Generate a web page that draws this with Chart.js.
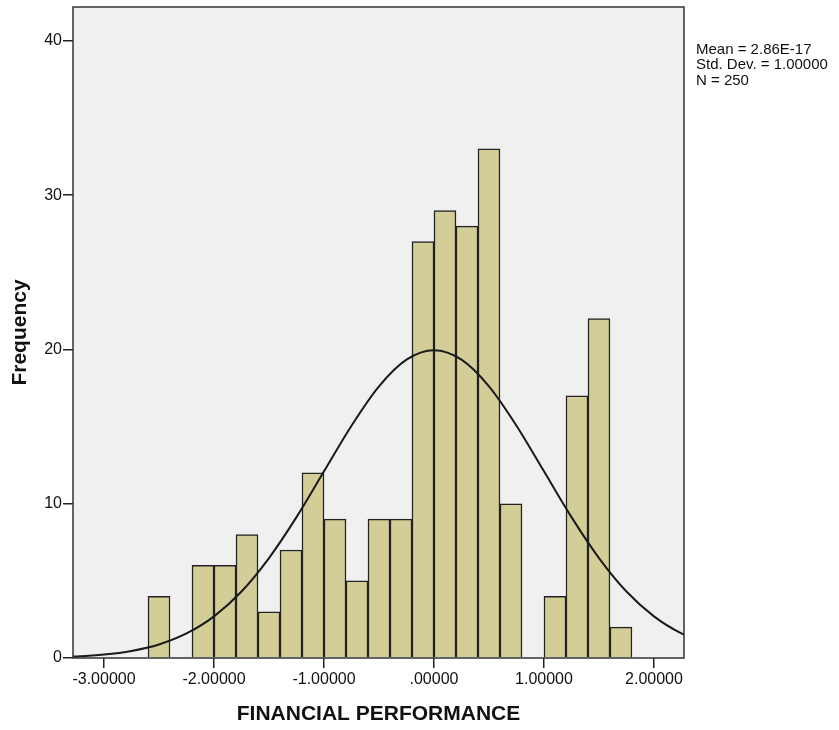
<!DOCTYPE html>
<html>
<head>
<meta charset="utf-8">
<script src="https://cdn.jsdelivr.net/npm/chart.js@4/dist/chart.umd.min.js"></script>
<style>
  body { margin: 0; background: #fff; }
  #wrap { position: relative; width: 839px; height: 730px; }
  #stats {
    position: absolute; left: 696px; top: 40.5px;
    font: 15px "Liberation Sans", Arial, sans-serif; line-height: 15.5px; color: #111;
    white-space: nowrap;
  }
</style>
</head>
<body>
<div id="wrap">
  <canvas id="chart" width="839" height="730"></canvas>
  <div id="stats">Mean = 2.86E-17<br>Std. Dev. = 1.00000<br>N = 250</div>
</div>
<script>
// histogram bins (centre of each 0.2 wide bin) and counts
const binCenters = [-2.5, -2.3, -2.1, -1.9, -1.7, -1.5, -1.3, -1.1, -0.9, -0.7, -0.5,
                    -0.3, -0.1, 0.1, 0.3, 0.5, 0.7, 0.9, 1.1, 1.3, 1.5, 1.7]
const frequencies = [4, null, 6, 6, 8, 3, 7, 12, 9, 5, 9,
                     9, 27, 29, 28, 33, 10, null, 4, 17, 22, 2]

// normal curve
const curveX = [-3.5, -3.25, -3.0, -2.75, -2.5, -2.25, -2.0, -1.75, -1.5, -1.25, -1.0, -0.75, -0.5,
                -0.25, 0, 0.25, 0.5, 0.75, 1.0, 1.25, 1.5, 1.75, 2.0, 2.25, 2.5]
const curveY = [0.04, 0.10, 0.22, 0.46, 0.88, 1.59, 2.70, 4.31, 6.48, 9.13, 12.10, 15.06, 17.61,
                19.34, 19.95, 19.34, 17.61, 15.06, 12.10, 9.13, 6.48, 4.31, 2.70, 1.59, 0.88]

const xTickValues = [-3, -2, -1, 0, 1, 2]
const xTickLabels = ['-3.00000', '-2.00000', '-1.00000', '.00000', '1.00000', '2.00000']
const yTickValues = [0, 10, 20, 30, 40]

const plotBox = {
    id: 'plotBox',
    beforeDatasetsDraw(chart) {
        const a = chart.chartArea, c = chart.ctx
        c.save()
        c.fillStyle = '#f0f0f0'
        c.fillRect(a.left, a.top, a.right - a.left, a.bottom - a.top)
        c.restore()
    },
    afterDraw(chart) {
        const a = chart.chartArea, c = chart.ctx
        c.save()
        c.strokeStyle = '#333'
        c.lineWidth = 1.5
        c.strokeRect(a.left, a.top, a.right - a.left, a.bottom - a.top)
        c.restore()
    }
}

const ctx = document.getElementById('chart').getContext('2d')

new Chart(ctx, {
    data: {
        datasets: [{
            type: 'line',
            data: curveX.map((x, i) => ({ x: x, y: curveY[i] })),
            borderColor: '#1a1a1a',
            borderWidth: 2,
            pointRadius: 0,
            cubicInterpolationMode: 'monotone',
            order: 0
        }, {
            type: 'bar',
            data: binCenters.map((x, i) => ({ x: x, y: frequencies[i] })),
            backgroundColor: '#d3ce97',
            borderColor: '#222',
            borderWidth: 1.5,
            barPercentage: 1,
            categoryPercentage: 1,
            order: 1
        }]
    },
    options: {
        responsive: false,
        animation: false,
        events: [],
        layout: { padding: { left: 0, top: 7, right: 155, bottom: 0 } },
        plugins: { legend: { display: false }, tooltip: { enabled: false } },
        scales: {
            x: {
                type: 'linear',
                offset: false,
                min: -3.282,
                max: 2.273,
                afterBuildTicks: s => { s.ticks = xTickValues.map(v => ({ value: v })) },
                afterFit: s => { s.height = 72; s.paddingLeft = 0; s.paddingRight = 0 },
                ticks: {
                    callback: (v, i) => xTickLabels[i],
                    font: { family: 'Liberation Sans', size: 16 },
                    color: '#111',
                    padding: 2,
                    maxRotation: 0
                },
                grid: { offset: false, drawOnChartArea: false, drawTicks: true, tickLength: 10, color: '#222', lineWidth: 1.5 },
                border: { display: false },
                title: {
                    display: true,
                    text: 'FINANCIAL PERFORMANCE',
                    font: { family: 'Liberation Sans', size: 21, weight: 'bold' },
                    color: '#111',
                    padding: { top: 0, bottom: 3 }
                }
            },
            y: {
                min: 0,
                max: 42.2,
                afterBuildTicks: s => { s.ticks = yTickValues.map(v => ({ value: v })) },
                afterFit: s => { s.width = 73; s.paddingTop = 0; s.paddingBottom = 0 },
                ticks: {
                    font: { family: 'Liberation Sans', size: 16 },
                    color: '#111',
                    padding: 1
                },
                grid: { drawOnChartArea: false, drawTicks: true, tickLength: 10, color: '#222', lineWidth: 1.5 },
                border: { display: false },
                title: {
                    display: true,
                    text: 'Frequency',
                    font: { family: 'Liberation Sans', size: 21, weight: 'bold' },
                    color: '#111',
                    padding: { top: 8, bottom: 0 }
                }
            }
        }
    },
    plugins: [plotBox]
})
</script>
</body>
</html>
